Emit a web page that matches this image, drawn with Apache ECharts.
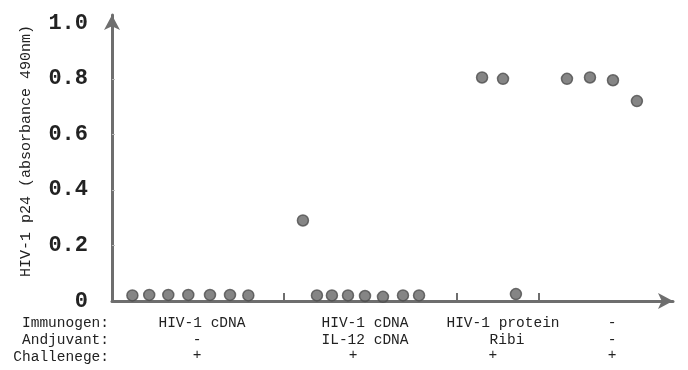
<!DOCTYPE html>
<html lang="en">
<head>
  <meta charset="UTF-8">
  <script type="text/javascript" src="https://cdn.jsdelivr.net/npm/echarts@6/dist/echarts.min.js"></script>
  <title>HIV-1 p24</title>
  <style type="text/css">
    * {
      margin: 0;
      padding: 0;
    }

    html, body {
      width: 100%;
      height: 100%;
      background-color: #fff;
    }

    #chart {
      width: 688px;
      height: 370px;
    }
  </style>
</head>

<body>
<div id="chart"></div>
</body>
<script type="text/javascript">
  // x = slot along the axis, y = absorbance
  var group1X = [1.09, 1.99, 3.01, 4.08, 5.24, 6.31, 7.29]
  var group1Y = [0.02, 0.022, 0.022, 0.022, 0.022, 0.022, 0.02]
  var group2X = [10.21, 10.96, 11.76, 12.62, 13.53, 14.49, 15.56, 16.42]
  var group2Y = [0.29, 0.02, 0.02, 0.02, 0.018, 0.015, 0.02, 0.02]
  var group3X = [19.79, 20.91, 21.6]
  var group3Y = [0.805, 0.8, 0.025]
  var group4X = [24.33, 25.56, 26.79, 28.07]
  var group4Y = [0.8, 0.805, 0.795, 0.72]

  // separator ticks between the groups
  var separators = [9.2, 18.45, 22.83]

  // rows of text under the axis
  var rowTitles = ['Immunogen:', 'Andjuvant:', 'Challenege:']
  var immunogens = ['HIV-1 cDNA', 'HIV-1 cDNA', 'HIV-1 protein', '-']
  var immunogenX = [4.81, 13.53, 20.91, 26.74]
  var adjuvants = ['-', 'IL-12 cDNA', 'Ribi', '-']
  var adjuvantX = [4.55, 13.53, 21.12, 26.74]
  var challenges = ['+', '+', '+', '+']
  var challengeX = [4.55, 12.89, 20.37, 26.74]

  var yTicks = [0, 0.2, 0.4, 0.6, 0.8, 1.0]

  var mono = '"Courier New", "Liberation Mono", monospace'
  var axisGrey = '#6e6e6e'

  function pairs(xs, ys) {
    return xs.map(function (x, i) { return [x, ys[i]] })
  }

  function rowAxis(values, texts, margin, showLine) {
    return {
      type: 'value',
      min: 0,
      max: 30,
      position: 'bottom',
      splitLine: {show: false},
      axisLine: {
        show: showLine,
        symbol: ['none', 'arrow'],
        symbolSize: [12, 15],
        lineStyle: {color: axisGrey, width: 3}
      },
      axisTick: {
        show: showLine,
        inside: true,
        length: 8,
        customValues: separators,
        lineStyle: {color: axisGrey, width: 2}
      },
      axisLabel: {
        customValues: values,
        margin: margin,
        fontFamily: mono,
        fontSize: 14.5,
        color: '#222',
        formatter: function (v) {
          var i = values.indexOf(v)
          return i >= 0 ? texts[i] : ''
        }
      }
    }
  }

  var dotStyle = {
    color: '#666',
    borderColor: '#4e4e4e',
    borderWidth: 1.5
  }

  var myChart = echarts.init(document.getElementById('chart'))
  var option = {
    animation: false,
    grid: {
      left: 112,
      right: 15,
      top: 15,
      bottom: 69
    },
    xAxis: [
      rowAxis(immunogenX, immunogens, 15, true),
      rowAxis(adjuvantX, adjuvants, 32, false),
      rowAxis(challengeX, challenges, 47, false)
    ],
    yAxis: {
      type: 'value',
      min: 0,
      max: 1.03,
      name: 'HIV-1 p24 (absorbance 490nm)',
      nameLocation: 'middle',
      nameGap: 78,
      nameTextStyle: {
        fontFamily: mono,
        fontSize: 15,
        color: '#222',
        padding: [0, 0, 0, 14]
      },
      splitLine: {show: false},
      axisLine: {
        show: true,
        symbol: ['none', 'arrow'],
        symbolSize: [12, 15],
        lineStyle: {color: axisGrey, width: 3}
      },
      axisTick: {
        show: true,
        inside: true,
        length: 3,
        customValues: yTicks.slice(1, 5),
        lineStyle: {color: '#bbb', width: 1}
      },
      axisLabel: {
        customValues: yTicks,
        margin: 24,
        fontFamily: mono,
        fontSize: 22,
        fontWeight: 'bold',
        color: '#222',
        formatter: function (v) {
          return v === 0 ? '0' : v.toFixed(1)
        }
      }
    },
    series: [
      {type: 'scatter', symbolSize: 11, itemStyle: dotStyle, data: pairs(group1X, group1Y)},
      {type: 'scatter', symbolSize: 11, itemStyle: dotStyle, data: pairs(group2X, group2Y)},
      {type: 'scatter', symbolSize: 11, itemStyle: dotStyle, data: pairs(group3X, group3Y)},
      {type: 'scatter', symbolSize: 11, itemStyle: dotStyle, data: pairs(group4X, group4Y)}
    ],
    graphic: rowTitles.map(function (t, i) {
      return {
        type: 'text',
        right: 688 - 109,
        top: 316 + i * 17,
        style: {
          text: t,
          font: '14.5px ' + mono,
          fill: '#222',
          textAlign: 'right'
        }
      }
    })
  };
  myChart.setOption(option);
</script>
</html>
